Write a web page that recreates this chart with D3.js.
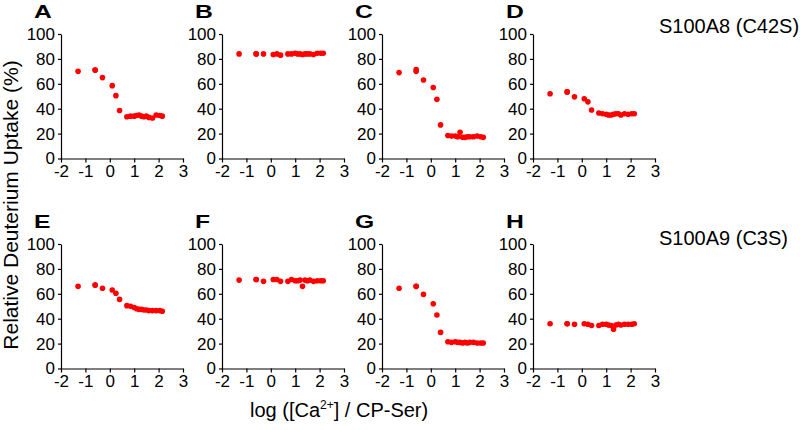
<!DOCTYPE html>
<html><head><meta charset="utf-8">
<script src="https://cdn.jsdelivr.net/npm/d3@7"></script>
<style>body{margin:0;background:#fff} svg text{font-family:"Liberation Sans",Arial,sans-serif;fill:#000}</style>
</head><body><svg id="c" width="800" height="430"></svg>
<script>
// log([Ca2+]/CP-Ser) titration points (shared by all panels)
const logRatio = [-1.3, -0.6, -0.6, -0.3, 0.1, 0.25, 0.4, 0.7, 0.85, 1.0, 1.1, 1.2, 1.3, 1.4, 1.5, 1.6, 1.75, 1.9, 2.05, 2.15];
// Relative deuterium uptake (%)
const uptakeA = [70, 71, 71, 65, 58.5, 50.5, 38.5, 33.5, 34, 34, 34.5, 35, 34, 33.5, 34, 33, 32.5, 35, 34.5, 34];
const uptakeB = [84, 84, 84, 84, 83.5, 84, 83, 84, 84, 84.5, 84, 84, 83.5, 84, 84, 84, 83.5, 84.5, 84.5, 84.5];
const uptakeC = [69, 71.5, 70, 63, 57, 47.5, 27, 18.5, 18, 18, 17.5, 21, 17, 17, 17.5, 17.5, 17.5, 18, 17.5, 17];
const uptakeD = [52, 53.5, 53.5, 49.5, 48, 45.5, 39, 36.5, 36, 35.5, 35, 35, 35.5, 36, 36, 35, 36, 35.5, 36, 36];
const uptakeE = [66, 67, 67, 64.5, 63, 60.5, 55.5, 50.5, 50, 49, 48, 47.5, 47.5, 47, 47, 46.5, 46.5, 46.5, 46.5, 46];
const uptakeF = [71, 71.5, 71.5, 70, 71.5, 71.5, 70, 70, 71.5, 70.5, 70.5, 71, 66, 71, 70.5, 71, 70, 70.5, 70.5, 70.5];
const uptakeG = [64.5, 66, 66, 59.5, 52, 43, 29, 21.5, 21, 21.5, 21, 21, 20.5, 21, 20.5, 21, 21, 20.5, 20.5, 20.5];
const uptakeH = [36, 36, 36, 35.5, 36, 35.5, 34.5, 34.5, 35.5, 35.5, 35, 34.5, 31.5, 35, 35.5, 35, 35.5, 35.5, 35.5, 36];

const panelLabels = ["A", "B", "C", "D", "E", "F", "G", "H"];
const rowLabels = ["S100A8 (C42S)", "S100A9 (C3S)"];
const xTicks = [-2, -1, 0, 1, 2, 3];
const yTicks = [0, 20, 40, 60, 80, 100];
const series = [uptakeA, uptakeB, uptakeC, uptakeD, uptakeE, uptakeF, uptakeG, uptakeH];

const svg = d3.select("#c");
const colX = [61, 222, 382, 533];
const rowTop = [34, 244];
const plotW = 122, plotH = 124.5;

series.forEach((vals, i) => {
  const r = Math.floor(i / 4), c = i % 4;
  const g = svg.append("g").attr("transform", `translate(${colX[c]},${rowTop[r]})`);
  const x = d3.scaleLinear().domain([-2, 3]).range([0, plotW]);
  const y = d3.scaleLinear().domain([0, 100]).range([plotH, 0]);

  const ax = g.append("g").attr("transform", `translate(0,${plotH})`)
    .call(d3.axisBottom(x).tickValues(xTicks).tickFormat(d => String(d)).tickSize(4).tickSizeOuter(0).tickPadding(2));
  const ay = g.append("g")
    .call(d3.axisLeft(y).tickValues(yTicks).tickFormat(d => String(d)).tickSize(3).tickSizeOuter(0).tickPadding(3));
  [ax, ay].forEach(a => {
    a.attr("font-family", null).attr("font-size", null);
    a.selectAll("text").style("font-size", "17px");
    a.selectAll("path,line").attr("stroke", "#000").attr("stroke-width", 1.2);
  });

  g.selectAll("circle").data(vals.map((v, k) => [logRatio[k], v])).enter().append("circle")
    .attr("cx", d => x(d[0])).attr("cy", d => y(d[1])).attr("r", 2.8).attr("fill", "#ff0000");

  g.append("text").attr("transform", `translate(-27,${-16}) scale(1.3,1)`)
    .style("font-size", "19px").style("font-weight", "bold").text(panelLabels[i]);
});

svg.append("text").attr("x", 659).attr("y", 33).style("font-size", "20px").text(rowLabels[0]);
svg.append("text").attr("x", 659).attr("y", 245).style("font-size", "20px").text(rowLabels[1]);

svg.append("text").attr("transform", "translate(18,205) rotate(-90)").attr("text-anchor", "middle")
  .style("font-size", "21px").text("Relative Deuterium Uptake (%)");

const xt = svg.append("text").attr("x", 250).attr("y", 417).style("font-size", "20px");
xt.append("tspan").text("log ([Ca");
xt.append("tspan").attr("dy", -8).style("font-size", "12px").text("2+");
xt.append("tspan").attr("dy", 8).text("] / CP-Ser)");
</script></body></html>
